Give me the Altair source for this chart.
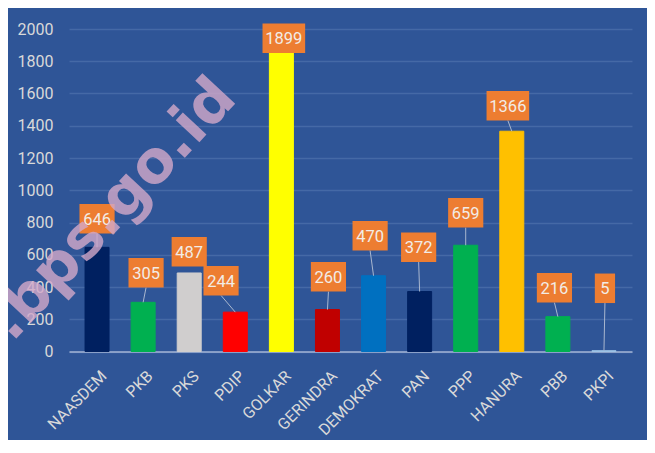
import json
import altair as alt
import pandas as pd

parties = ["NAASDEM", "PKB", "PKS", "PDIP", "GOLKAR", "GERINDRA",
           "DEMOKRAT", "PAN", "PPP", "HANURA", "PBB", "PKPI"]
values = [646, 305, 487, 244, 1899, 260, 470, 372, 659, 1366, 216, 5]
bar_colors = ["#002060", "#00B050", "#D0CECE", "#FF0000", "#FFFF00", "#C00000",
              "#0070C0", "#002060", "#00B050", "#FFC000", "#00B050", "#9DC3E6"]
y_ticks = [0, 200, 400, 600, 800, 1000, 1200, 1400, 1600, 1800, 2000]
# data-label box placement (box centre height in data units, horizontal shift in px)
label_y = [823, 488, 618, 439, 1943, 463, 718, 646, 860, 1524, 395, 392]
label_dx = [0, 3, 0, -14.5, 2.5, 1, -3.5, -1, 0, -4, -3.5, 1]
watermark = "p.bps.go.id"

W, H = 563, 322.5
PXU = W / 12.0          # px per x unit
PYU = H / 2000.0        # px per y unit
FONT = "Roboto, Liberation Sans, sans-serif"

df = pd.DataFrame({
    "idx": list(range(len(parties))),
    "party": parties,
    "value": values,
    "lab_y": label_y,
    "dx": label_dx,
    "label": [str(v) for v in values],
})

xscale = alt.Scale(domain=[-0.5, 11.5], nice=False, zero=False)
yscale = alt.Scale(domain=[0, 2000], nice=False)

label_expr = json.dumps(parties) + "[datum.value]"

x_axis = alt.Axis(values=list(range(len(parties))), labelExpr=label_expr,
                  grid=False, ticks=False, domain=True,
                  domainColor="#A3B4D4", domainWidth=1.5,
                  labelAngle=-45, labelAlign="right", labelBaseline="top",
                  labelPadding=16, labelOffset=1, labelFlush=False,
                  labelOverlap=False, labelBound=False,
                  labelColor="#D9D9D9", labelFontSize=16, labelFont=FONT)
y_axis = alt.Axis(values=y_ticks, format="d", grid=True,
                  gridColor="#4569A6", gridWidth=1.5,
                  labelOverlap=False, labelFlush=False,
                  ticks=False, domain=False, labelPadding=16,
                  labelColor="#D9D9D9", labelFontSize=16, labelFont=FONT)

base = alt.Chart().transform_calculate(
    lx=f"datum.idx + datum.dx/{PXU}",
    hw=f"(7.6*length(datum.label) + 13)/2/{PXU}",
).transform_calculate(
    bx1="datum.lx - datum.hw",
    bx2="datum.lx + datum.hw",
    by1=f"datum.lab_y - {14.75 / PYU}",
    by2=f"datum.lab_y + {14.75 / PYU}",
)

bars = alt.Chart().mark_bar(size=24, strokeWidth=1).encode(
    x=alt.X("idx:Q", scale=xscale, title=None, axis=x_axis),
    y=alt.Y("value:Q", scale=yscale, title=None, axis=y_axis),
    color=alt.Color("party:N", scale=alt.Scale(domain=parties, range=bar_colors), legend=None),
    stroke=alt.Color("party:N", scale=alt.Scale(domain=parties, range=bar_colors), legend=None),
)

leaders = base.transform_filter(
    "datum.by1 - datum.value > 50"
).mark_rule(color="#A9B7CF", strokeWidth=1).encode(
    x=alt.X("lx:Q", scale=xscale, title=None, axis=x_axis),
    x2="idx:Q",
    y=alt.Y("by1:Q", scale=yscale, title=None, axis=y_axis),
    y2="value:Q",
)

boxes = base.mark_rect(color="#ED7D31").encode(
    x=alt.X("bx1:Q", scale=xscale, title=None, axis=x_axis),
    x2="bx2:Q",
    y=alt.Y("by1:Q", scale=yscale, title=None, axis=y_axis),
    y2="by2:Q",
)

texts = base.mark_text(font=FONT, fontSize=16.5, color="#F2ECE6",
                       align="center", baseline="middle", dy=1).encode(
    x=alt.X("lx:Q", scale=xscale, title=None, axis=x_axis),
    y=alt.Y("lab_y:Q", scale=yscale, title=None, axis=y_axis),
    text="label:N",
)

wm = alt.Chart(pd.DataFrame({"t": [watermark]})).mark_text(
    font="DejaVu Sans, Verdana, sans-serif", fontWeight="bold", fontSize=59,
    angle=313, align="center", baseline="alphabetic",
    color="#D3A9CA", opacity=0.8,
).encode(x=alt.value(42), y=alt.value(208), text="t:N")

chart = alt.layer(bars, leaders, boxes, texts, wm, data=df).properties(
    width=W, height=H,
    autosize=alt.AutoSizeParams(type="none"),
    padding={"left": 61, "top": 21, "right": 15, "bottom": 88},
    background="#2F5597",
).configure_view(stroke=None)

chart.save("out.html", embed_options={"renderer": "svg", "actions": False})
